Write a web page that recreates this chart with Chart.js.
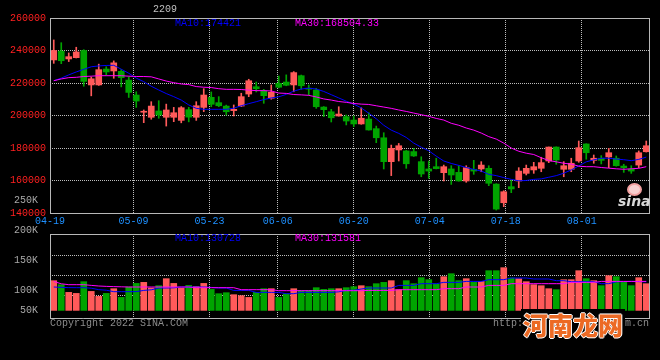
<!DOCTYPE html>
<html><head><meta charset="utf-8">
<script src="https://cdn.jsdelivr.net/npm/chart.js@4.4.0/dist/chart.umd.min.js"></script>
<style>
html,body{margin:0;padding:0;background:#000;width:660px;height:360px;overflow:hidden;position:relative;}
.box{position:absolute;left:0;width:660px;}
#pw{top:0;height:232px;}
#vw{top:190px;height:170px;}
.t{position:absolute;font-family:"Liberation Mono",monospace;font-size:10px;white-space:pre;line-height:10px;}
#wm{position:absolute;left:521px;top:309px;font-family:"Noto Sans CJK SC",sans-serif;font-weight:900;font-size:25px;line-height:30px;color:#ec6a24;background:#000;padding:0 2px;
 text-shadow:1px 0 0 #fff,-1px 0 0 #fff,0 1px 0 #fff,0 -1px 0 #fff;}
#sina{position:absolute;left:618px;top:194px;font-family:"DejaVu Sans",sans-serif;font-weight:bold;font-style:italic;font-size:14px;line-height:14px;color:#d8d8d8;}
#eye{position:absolute;left:627px;top:183px;width:11px;height:9px;border:2px solid #f3a0a0;background:#f8d0d0;border-radius:50%;}
</style></head><body>
<div class="box" id="pw"><canvas id="pc" width="660" height="232"></canvas></div>
<div class="box" id="vw"><canvas id="vc" width="660" height="170"></canvas></div>
<div class="t" style="left:153px;top:5px;color:#c0c0c0">2209</div>
<div class="t" style="left:175px;top:19px;color:#0000ff">MA10:174421</div>
<div class="t" style="left:295px;top:19px;color:#ff00ff">MA30:168504.33</div>
<div class="t" style="left:175px;top:234px;color:#0000ff">MA10:130728</div>
<div class="t" style="left:295px;top:234px;color:#ff00ff">MA30:131581</div>
<div class="t" style="left:50px;top:319px;color:#8c8c8c">Copyright 2022 SINA.COM</div>
<div class="t" style="left:493px;top:319px;color:#8c8c8c">http://finance.sina.com.cn</div>
<div id="wm">河南龙网</div>
<div id="eye"></div>
<div id="sina">sina</div>
<script>
const dates = ['04-19','04-20','04-21','04-22','04-25','04-26','04-27','04-28','04-29',
'05-05','05-06','05-09','05-10','05-11','05-12','05-13','05-16','05-17','05-18','05-19','05-20','05-23','05-24','05-25','05-26','05-27','05-30','05-31',
'06-01','06-02','06-06','06-07','06-08','06-09','06-10','06-13','06-14','06-15','06-16','06-17','06-20','06-21','06-22','06-23','06-24','06-27','06-28','06-29','06-30',
'07-01','07-04','07-05','07-06','07-07','07-08','07-11','07-12','07-13','07-14','07-15','07-18','07-19','07-20','07-21','07-22','07-25','07-26','07-27','07-28','07-29',
'08-01','08-02','08-03','08-04','08-05','08-08','08-09','08-10','08-11','08-12'];
const xLabelDates = ['04-19','05-09','05-23','06-06','06-20','07-04','07-18','08-01'];

const opens = [234200,239600,234800,235600,240000,218800,218800,228600,227400,227200,
221800,212600,202000,198900,202800,198900,198900,197000,203600,198900,
205000,211200,207900,205800,203000,205800,213200,217700,215100,210600,
219800,220600,218800,224500,216600,215700,205200,202300,199700,199300,
197200,194800,197800,191900,186300,171600,178800,178200,177800,171600,
167100,168500,164800,167100,165000,159700,166900,167100,167500,157800,
146300,156200,159700,164400,166500,167500,172000,180600,166900,166900,
172000,182500,172400,173700,174500,173700,168900,166900,169500,177700];
const highs = [246500,244800,238500,242000,240500,223700,231600,230000,233600,228300,
223800,214600,203400,208500,209100,207000,205000,205500,205000,208500,
216500,214500,211600,206400,206500,213700,222300,220600,216100,218800,
224300,225000,227000,224900,218800,216700,205500,203800,205400,200300,
199700,204800,201700,193500,189400,181800,182800,178500,179800,174600,
172000,173700,169500,169100,169100,169100,172400,171600,169100,158000,
153700,160300,167900,169500,171200,174300,180600,180700,171600,173700,
184300,182600,175700,175300,179800,175100,170000,169100,178200,184300];
const lows = [232100,231900,233200,235400,218000,212100,218500,224800,222900,217600,
211100,205000,195600,197700,198300,193500,196200,195500,196100,197000,
202400,205400,205400,200300,199700,205500,211600,214500,207500,210000,
217000,218300,214600,216100,212600,204400,199300,196000,199600,194200,
193100,194600,191000,183300,167100,163000,172000,167500,174800,162300,
161300,167100,159700,157600,159600,158900,163800,165400,156800,141800,
143900,152500,155600,163400,164400,165400,171000,170000,162300,165400,
171200,173100,170600,170200,167900,168800,165000,164400,167900,177500];
const closes = [240000,233700,236200,239100,221000,222600,228200,226800,232400,223300,
214200,208900,202400,205800,200300,203400,201700,204800,199000,206000,
212600,206900,206000,202300,203800,211600,221400,216500,212200,214300,
217400,218600,226400,218300,216200,205400,203600,198600,200900,196600,
194800,198300,191100,186300,171600,179800,181400,170300,175100,164000,
165800,167300,168500,163400,159700,167900,165800,169500,158300,142400,
153100,154800,165800,167500,168500,171000,180600,172600,169100,170600,
180200,177100,173700,172400,177100,169100,167900,165800,177100,181400];
const ma10 = [221400,223000,225000,226800,228400,230000,230500,230800,230900,228500,
226000,223000,220800,218000,215700,213500,211600,209500,206500,204400,
203800,203800,203800,203800,204500,206000,207300,208500,209800,210800,
211500,213000,215000,216300,216800,216300,214800,212800,210800,208800,
207000,204700,201400,198000,194000,191000,189000,186500,183000,180500,
178300,175000,172000,170500,169300,168000,166800,165800,163800,163000,
161800,160700,159800,160000,160700,161000,162000,163000,164500,166500,
169000,171500,172700,173700,173700,173200,172800,172200,173000,174400];
const ma30 = [221400,222500,223300,223500,224000,224200,224500,224500,224500,224500,
224200,224000,224000,223800,222500,221200,220200,219400,219000,217800,
217400,217200,216500,216100,216100,216000,215600,215300,215300,215100,
213800,213600,212900,212700,212400,211400,210200,209500,208600,208100,
207400,207000,206800,206000,205200,204400,203400,202500,201500,200500,
199500,198200,197200,195200,194000,192300,191000,189200,187000,185500,
183000,180000,178000,176800,176000,174000,172300,171500,170600,170100,
168800,168500,168500,168000,167600,167200,166900,167200,167500,168500];
const volumes = [135800,125800,106600,104000,133300,109000,96600,104000,115800,94000,
120000,129000,131600,117500,123300,140800,129000,117500,124000,121600,
129000,114000,103300,105800,100800,98300,94000,106600,115800,115800,
94000,103300,115800,110800,110800,118300,114000,115800,115800,118300,
120800,123300,120800,128300,131600,135800,113300,135800,128300,143300,
138300,127500,145800,153300,135800,140800,131600,134000,160800,160800,
168300,142500,140800,133300,125800,123300,115800,113300,138300,138300,
160800,140800,135800,123300,148300,145800,131600,123300,143300,128300];
const volMa10 = [120000,119000,118500,118300,118300,117000,113300,112000,108300,108300,
108300,108500,111500,113000,117500,117500,118000,120000,120000,120000,
120000,119000,117500,117500,111500,111500,111500,106600,106600,106600,
106600,103300,103300,106600,106600,106600,106600,106600,108000,111500,
112000,115000,117500,117500,117500,117500,124000,124000,124000,128300,
128300,128300,131600,131600,131600,134000,134000,134000,138300,138300,
138300,142500,142500,142500,140000,140000,140000,135800,135800,133300,
133300,133300,133300,128300,128300,133000,133500,134000,133500,133000];
const volMa30 = [134000,128000,125800,125800,125800,124000,122500,121600,121000,120500,
120000,120000,120000,120000,120000,120000,120000,120000,120000,118300,
118300,118300,118300,118300,118300,113300,113300,113300,113300,113300,
110800,110800,110800,110800,110800,110800,110800,110800,110800,110800,
110800,110800,111500,111500,111500,111500,113300,113300,113300,113300,
113300,113300,115800,115800,115800,120000,120000,120000,124000,124000,
124000,128300,128300,128300,128300,128300,128300,128300,128300,131600,
131600,131600,131600,134000,134000,134000,134000,134000,134000,134000];
const volTickLabels = ['250K','200K','150K','100K','50K'];
const volGridValues = [100000,150000,200000];

const UP = '#ff5a5a', DOWN = '#00a400';
const candleColors = opens.map((o, i) => closes[i] >= o ? UP : DOWN);
const GRID = '#bdbdbd', FRAME = '#b8b8b8';
const monoFont = {family: '"Liberation Mono", monospace', size: 10};

const frame = {
  id: 'frame',
  afterDraw(chart) {
    const {ctx, chartArea: a} = chart;
    ctx.save();
    ctx.strokeStyle = FRAME; ctx.lineWidth = 1; ctx.setLineDash([]);
    ctx.strokeRect(Math.round(a.left) + 0.5, Math.round(a.top) + 0.5,
      Math.round(a.right - a.left) - 1, Math.round(a.bottom - a.top));
    ctx.restore();
  }
};

const gridX = (showLabels) => ({
  type: 'linear', axis: 'x', position: 'bottom', min: 0, max: dates.length - 1,
  offset: false,
  afterBuildTicks: s => { s.ticks = xLabelDates.map(d => ({value: dates.indexOf(d)})); },
  afterFit: s => { s.height = showLabels ? 19 : 0; },
  grid: {color: GRID, lineWidth: 1, drawTicks: false, offset: false},
  border: {display: false, dash: [1, 1]},
  ticks: {display: showLabels, autoSkip: false, maxRotation: 0, padding: 2, color: '#1e90ff',
    font: monoFont, callback: v => dates[v]}
});
const catX = {type: 'category', labels: dates, offset: true, display: false};

new Chart(document.getElementById('pc'), {
  type: 'bar',
  data: {
    labels: dates,
    datasets: [
      {type: 'bar', data: lows.map((l, i) => [l, highs[i]]), backgroundColor: candleColors,
        barThickness: 1, grouped: false, order: 3, xAxisID: 'x', yAxisID: 'y'},
      {type: 'bar', data: opens.map((o, i) => [o, closes[i]]), backgroundColor: candleColors,
        barThickness: 6, minBarLength: 1, grouped: false, order: 2, xAxisID: 'x', yAxisID: 'y'},
      {type: 'line', data: ma10, borderColor: '#0000ff', borderWidth: 1, pointRadius: 0,
        tension: 0, order: 1, xAxisID: 'x', yAxisID: 'y'},
      {type: 'line', data: ma30, borderColor: '#ff00ff', borderWidth: 1, pointRadius: 0,
        tension: 0, order: 0, xAxisID: 'x', yAxisID: 'y'}
    ]
  },
  options: {
    responsive: false, animation: false, events: [],
    layout: {padding: {top: 18, right: 10, left: 0, bottom: 0}},
    plugins: {legend: {display: false}, tooltip: {enabled: false}},
    scales: {
      x: catX,
      xg: gridX(true),
      y: {
        type: 'linear', position: 'left', min: 140000, max: 260000,
        afterFit: s => { s.width = 50; },
        grid: {color: GRID, lineWidth: 1, drawTicks: false},
        border: {display: false, dash: [1, 1]},
        ticks: {stepSize: 20000, color: '#ff2020', font: monoFont, padding: 4,
          callback: v => String(v)}
      }
    }
  },
  plugins: [frame]
});

new Chart(document.getElementById('vc'), {
  type: 'bar',
  data: {
    labels: dates,
    datasets: [
      {type: 'bar', data: volumes, backgroundColor: candleColors, barThickness: 6,
        base: 61500, order: 2, xAxisID: 'x', yAxisID: 'yv'},
      {type: 'line', data: volMa10, borderColor: '#0000ff', borderWidth: 1, pointRadius: 0,
        tension: 0, order: 1, xAxisID: 'x', yAxisID: 'yv'},
      {type: 'line', data: volMa30, borderColor: '#ff00ff', borderWidth: 1, pointRadius: 0,
        tension: 0, order: 0, xAxisID: 'x', yAxisID: 'yv'}
    ]
  },
  options: {
    responsive: false, animation: false, events: [],
    layout: {padding: {top: 44, right: 10, left: 0, bottom: 42}},
    plugins: {legend: {display: false}, tooltip: {enabled: false}},
    scales: {
      x: catX,
      xg: gridX(false),
      yl: {
        type: 'linear', axis: 'y', position: 'left', min: 54500, max: 194500,
        afterBuildTicks: s => {
          const floor = s.min + 0.0875 * (s.max - s.min);
          s.ticks = volTickLabels.map(t => ({value: Math.max(parseFloat(t) * 1000, floor)}));
        },
        afterFit: s => { s.width = 50; },
        grid: {display: false},
        border: {display: false},
        ticks: {autoSkip: false, color: '#a8a8a8', font: monoFont, padding: 4,
          callback: (v, i) => volTickLabels[i]}
      },
      yv: {
        type: 'linear', axis: 'y', position: 'left', min: 42500, max: 252500,
        afterBuildTicks: s => { s.ticks = volGridValues.map(v => ({value: v})); },
        afterFit: s => { s.width = 0; },
        grid: {color: GRID, lineWidth: 1, drawTicks: false},
        border: {display: false, dash: [1, 1]},
        ticks: {display: false}
      }
    }
  },
  plugins: [frame]
});
</script>
</body></html>
